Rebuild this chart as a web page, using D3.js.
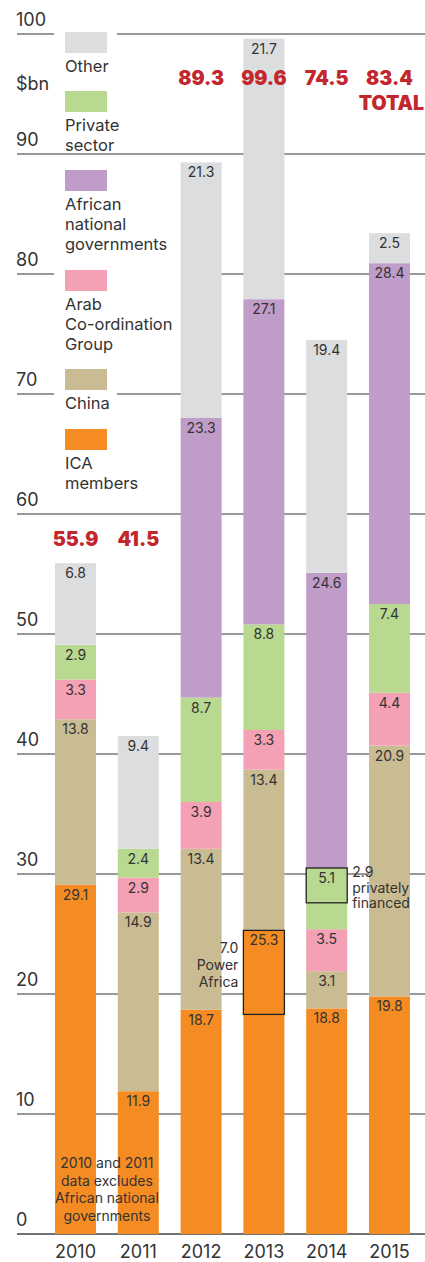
<!DOCTYPE html>
<html>
<head>
<meta charset="utf-8">
<script src="https://cdn.jsdelivr.net/npm/d3@7"></script>
<style>
  body { margin: 0; background: #fff; }
  svg text { font-family: Inter, Roboto, "Noto Sans", sans-serif; fill: #333; }
</style>
</head>
<body>
<div class="chart"></div>
<script>
//Chart data (bottom to top stacking order)
var years = ["2010", "2011", "2012", "2013", "2014", "2015"];
var seriesNames = ["ICA members", "China", "Arab Co-ordination Group", "Private sector", "African national governments", "Other"];
var icaMembers = [29.1, 11.9, 18.7, 25.3, 18.8, 19.8];
var china = [13.8, 14.9, 13.4, 13.4, 3.1, 20.9];
var arabGroup = [3.3, 2.9, 3.9, 3.3, 3.5, 4.4];
var privateSector = [2.9, 2.4, 8.7, 8.8, 5.1, 7.4];
var africanGovs = [0, 0, 23.3, 27.1, 24.6, 28.4];
var other = [6.8, 9.4, 21.3, 21.7, 19.4, 2.5];
var totals = [55.9, 41.5, 89.3, 99.6, 74.5, 83.4];
var yTicks = [0, 10, 20, 30, 40, 50, 60, 70, 80, 90, 100];

//Legend entries, top to bottom, with their text lines
var legendLines = [
  ["Other"],
  ["Private", "sector"],
  ["African", "national", "governments"],
  ["Arab", "Co-ordination", "Group"],
  ["China"],
  ["ICA", "members"]
];
var legendKeys = ["Other", "Private sector", "African national governments", "Arab Co-ordination Group", "China", "ICA members"];

var colors = {
  "ICA members": "#f58c23",
  "China": "#c9bb92",
  "Arab Co-ordination Group": "#f4a1b5",
  "Private sector": "#b8d98f",
  "African national governments": "#c09cc8",
  "Other": "#dcdddf"
};

var width = 425,
    height = 1262;

var svg = d3.select(".chart")
            .append("svg")
            .attr("width", width)
            .attr("height", height);

//Scales
var y = d3.scaleLinear().domain([0, 100]).range([1234, 34]);
var x = d3.scaleBand().domain(years).range([55, 410]).paddingInner(0.347).paddingOuter(0);

//Stack table built from the series arrays
var table = years.map(function(yr, i) {
  return {
    year: yr,
    "ICA members": icaMembers[i],
    "China": china[i],
    "Arab Co-ordination Group": arabGroup[i],
    "Private sector": privateSector[i],
    "African national governments": africanGovs[i],
    "Other": other[i]
  };
});
var stacked = d3.stack().keys(seriesNames)(table);

//Gridlines and tick labels
var grid = svg.append("g");
grid.selectAll("line")
    .data(yTicks)
    .enter()
    .append("line")
    .attr("x1", 17)
    .attr("x2", width)
    .attr("y1", function(d) { return y(d); })
    .attr("y2", function(d) { return y(d); })
    .attr("stroke", function(d) { return d == 0 ? "#444" : "#777"; })
    .attr("stroke-width", 1.3);

grid.selectAll("text")
    .data(yTicks)
    .enter()
    .append("text")
    .attr("x", 16)
    .attr("y", function(d) { return y(d) - 8; })
    .style("font-size", "18px")
    .text(function(d) { return d; });

svg.append("text")
   .attr("x", 16)
   .attr("y", 90)
   .style("font-size", "18px")
   .text("$bn");

//Legend, with white backing that breaks the gridlines
var legendTop = [32, 91, 170, 270, 369, 429];
var legend = svg.append("g");
legendKeys.forEach(function(key, i) {
  var lines = legendLines[i];
  var g = legend.append("g").attr("transform", "translate(65," + legendTop[i] + ")");
  var textW = d3.max(lines, function(l) { return l.length; }) * 8.6;
  g.append("rect")
   .attr("x", -11)
   .attr("y", -4)
   .attr("width", Math.max(42, textW) + 20)
   .attr("height", 21 + lines.length * 20 + 4)
   .attr("fill", "#fff");
  g.append("rect")
   .attr("width", 42)
   .attr("height", 21)
   .attr("fill", colors[key]);
  g.selectAll("text")
   .data(lines)
   .enter()
   .append("text")
   .attr("x", 0)
   .attr("y", function(d, j) { return 40 + j * 20; })
   .style("font-size", "16.5px")
   .text(function(d) { return d; });
});

//Stacked bars
var layers = svg.selectAll(".layer")
                .data(stacked)
                .enter()
                .append("g")
                .attr("class", "layer")
                .attr("fill", function(d) { return colors[d.key]; });

layers.selectAll("rect")
      .data(function(d) { return d; })
      .enter()
      .append("rect")
      .attr("x", function(d) { return x(d.data.year); })
      .attr("y", function(d) { return y(d[1]); })
      .attr("width", x.bandwidth())
      .attr("height", function(d) { return y(d[0]) - y(d[1]); });

//Annotation boxes (drawn over the bars)
//2013: 7.0 of ICA members from Power Africa
var pa = stacked[0][3];
svg.append("rect")
   .attr("x", x("2013"))
   .attr("y", y(pa[1]))
   .attr("width", x.bandwidth())
   .attr("height", y(pa[1] - 7.0) - y(pa[1]))
   .attr("fill", "none")
   .attr("stroke", "#222")
   .attr("stroke-width", 1.3);

svg.append("g").selectAll("text")
   .data(["7.0", "Power", "Africa"])
   .enter()
   .append("text")
   .attr("x", x("2013") - 5)
   .attr("y", function(d, j) { return y(pa[1]) + 23 + j * 17; })
   .attr("text-anchor", "end")
   .style("font-size", "14px")
   .text(function(d) { return d; });

//2014: 2.9 of private sector privately financed
var pf = stacked[3][4];
svg.append("rect")
   .attr("x", x("2014"))
   .attr("y", y(pf[1]))
   .attr("width", x.bandwidth())
   .attr("height", y(pf[1] - 2.9) - y(pf[1]))
   .attr("fill", "none")
   .attr("stroke", "#222")
   .attr("stroke-width", 1.3);

svg.append("g").selectAll("text")
   .data(["2.9", "privately", "financed"])
   .enter()
   .append("text")
   .attr("x", x("2014") + x.bandwidth() + 5)
   .attr("y", function(d, j) { return y(pf[1]) + 9 + j * 15.5; })
   .style("font-size", "14px")
   .text(function(d) { return d; });

//Segment value labels
layers.selectAll("text")
      .data(function(d) { return d.filter(function(s) { return s[1] - s[0] > 0; }); })
      .enter()
      .append("text")
      .attr("x", function(d) { return x(d.data.year) + x.bandwidth() / 2; })
      .attr("y", function(d) { return y(d[1]) + 15; })
      .attr("text-anchor", "middle")
      .style("font-size", "14px")
      .style("fill", "#333")
      .text(function(d) { return d3.format(".1f")(d[1] - d[0]); });

//Totals
svg.append("g").selectAll("text")
   .data(totals)
   .enter()
   .append("text")
   .attr("x", function(d, i) { return x(years[i]) + x.bandwidth() / 2; })
   .attr("y", function(d, i) { return i < 2 ? 546 : 85; })
   .attr("text-anchor", "middle")
   .style("font-size", "19.5px")
   .style("font-weight", "900")
   .style("fill", "#c1272d")
   .text(function(d) { return d3.format(".1f")(d); });

svg.append("text")
   .attr("x", 424)
   .attr("y", 110)
   .attr("text-anchor", "end")
   .style("font-size", "19.5px")
   .style("font-weight", "900")
   .style("fill", "#c1272d")
   .text("TOTAL");

//Note on 2010 and 2011
svg.append("g").selectAll("text")
   .data(["2010 and 2011", "data excludes", "African national", "governments"])
   .enter()
   .append("text")
   .attr("x", (x("2010") + x("2011") + x.bandwidth()) / 2)
   .attr("y", function(d, j) { return 1168 + j * 17.5; })
   .attr("text-anchor", "middle")
   .style("font-size", "14px")
   .text(function(d) { return d; });

//X axis labels
svg.append("g").selectAll("text")
   .data(years)
   .enter()
   .append("text")
   .attr("x", function(d) { return x(d) + x.bandwidth() / 2; })
   .attr("y", 1258)
   .attr("text-anchor", "middle")
   .style("font-size", "18px")
   .text(function(d) { return d; });
</script>
</body>
</html>
